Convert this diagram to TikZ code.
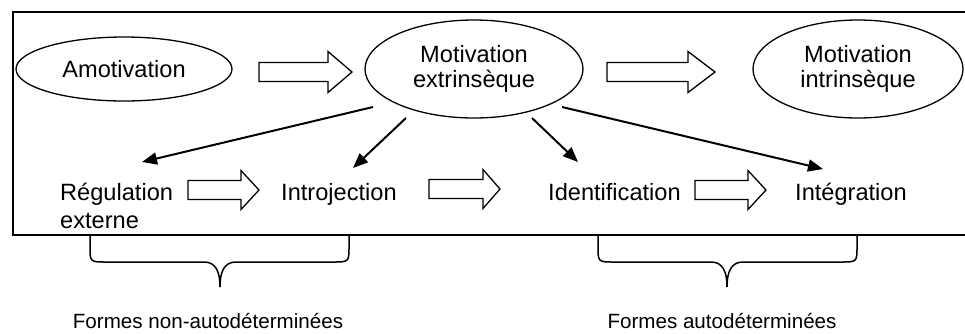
\documentclass[tikz,border=0pt]{standalone}
\usepackage{fontspec}
\setmainfont{Liberation Sans}
\usetikzlibrary{shapes.geometric,arrows.meta}
\newcommand\blockarr[6]{%
  \draw[blockarrow] (#1,#4-#5) -- (#3,#4-#5) -- (#3,#4-#6) -- (#2,#4) -- (#3,#4+#6) -- (#3,#4+#5) -- (#1,#4+#5) -- cycle;}
\begin{document}
\begin{tikzpicture}[x=1pt,y=-1pt,
  ell/.style={ellipse,draw,line width=1.3pt,inner sep=0pt,align=center,
    font=\fontsize{23.6}{25}\selectfont},
  lbl/.style={inner sep=0pt,anchor=base west,align=left,
    font=\fontsize{23.6}{28}\selectfont},
  foot/.style={inner sep=0pt,anchor=base,font=\fontsize{20.6}{24}\selectfont},
  blockarrow/.style={draw,line width=1.3pt,fill=white,line join=miter},
  thin/.style={line width=2pt,-{Triangle[length=15pt,width=12pt]}},
  frame/.style={line width=2pt},
  brace/.style={line width=1.5pt}]
\useasboundingbox (0,0) rectangle (965,333);
\draw[frame] (965,12) -- (13,12) -- (13,235) -- (965,235);
% ellipses
\node[ell,minimum width=216pt,minimum height=64pt] (amo) at (124,69) {Amotivation};
\node[ell,minimum width=218pt,minimum height=98pt] (ext) at (474,69) {Motivation\\extrinsèque};
\node[ell,minimum width=210pt,minimum height=98pt] (int) at (858,69) {Motivation\\intrinsèque};
% block arrows
\blockarr{259}{352}{328}{72}{9.5}{20.5}
\blockarr{607}{715}{688}{72}{9.5}{20.5}
\blockarr{188}{259}{241}{190}{9.5}{19.5}
\blockarr{429}{500}{483}{189}{9.5}{19.5}
\blockarr{695}{766}{748}{190}{9.5}{19.5}
% bottom row labels
\node[lbl] (reg) at (60,228) {Régulation\\externe};
\node[lbl] (intro) at (281,200) {Introjection};
\node[lbl] (ident) at (548,200) {Identification};
\node[lbl] (integ) at (795,200) {Intégration};
% connector end points
\coordinate (s1) at (373,107);
\coordinate (s2) at (406,118);
\coordinate (s3) at (532,118);
\coordinate (s4) at (562,107);
\coordinate (t1) at (142,162);
\coordinate (t2) at (353,168);
\coordinate (t3) at (578,162);
\coordinate (t4) at (823,169);
\draw[thin] (s1) -- (t1);
\draw[thin] (s2) -- (t2);
\draw[thin] (s3) -- (t3);
\draw[thin] (s4) -- (t4);
% braces
\draw[brace] (90,236) -- (90,246) .. controls (90,262) .. (106,262) -- (204,262)
  .. controls (216,262) and (220,272) .. (220,287)
  .. controls (220,272) and (224,262) .. (236,262) -- (333,262)
  .. controls (349,262) .. (349,246) -- (349,236);
\draw[brace] (598,236) -- (598,246) .. controls (598,262) .. (614,262) -- (711,262)
  .. controls (723,262) and (727,272) .. (727,287)
  .. controls (727,272) and (731,262) .. (743,262) -- (841,262)
  .. controls (857,262) .. (857,246) -- (857,236);
% footers
\node[foot] (nonauto) at (208,328) {Formes non-autodéterminées};
\node[foot] (auto) at (722,328) {Formes autodéterminées};
\end{tikzpicture}
\end{document}
